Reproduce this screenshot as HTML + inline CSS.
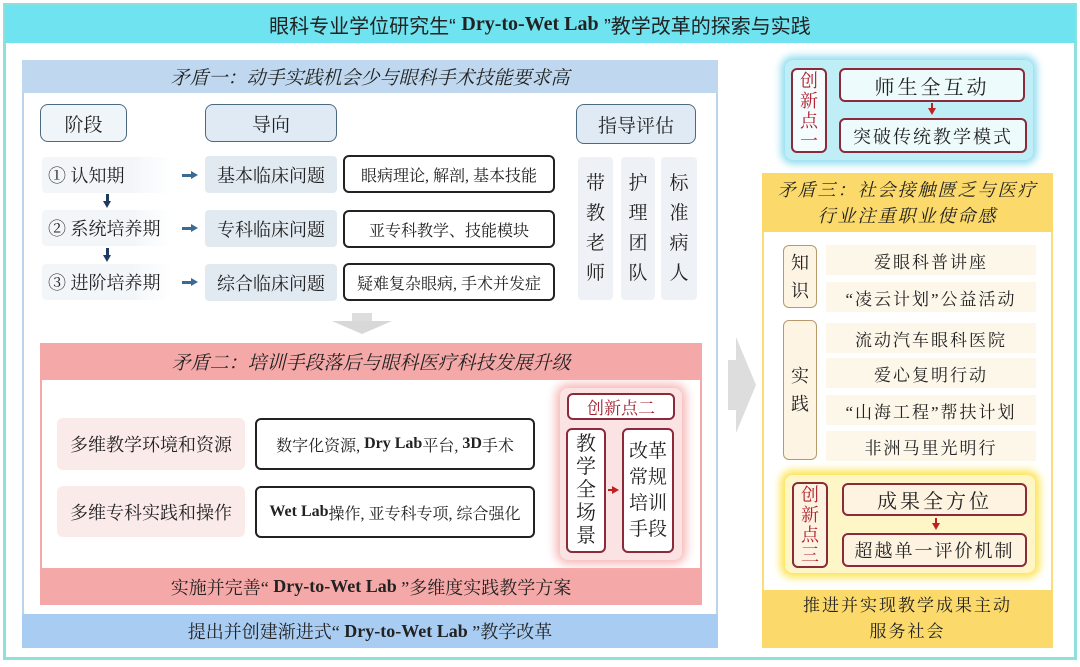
<!DOCTYPE html>
<html><head><meta charset="utf-8"><style>
*{margin:0;padding:0;box-sizing:border-box}
body{width:1080px;height:667px;background:#fff;position:relative;overflow:hidden;font-family:"Liberation Serif","Noto Serif CJK SC",serif;color:#222}
.a{position:absolute;display:flex;align-items:center;justify-content:center;text-align:center}
.hd{background:#dfeaf4;border:1.5px solid #4a6a80;border-radius:8px;font-size:19px}
.st{background:#f3f6f9;font-size:18px;border-radius:4px}
.gd{background:#e1e9f1;font-size:18px;border-radius:4px}
.wb{background:#fff;border:2px solid #222;border-radius:6px;font-size:16px}
.col{background:#eef2f6;border-radius:4px;font-size:19px;line-height:30px}
.pk{background:#fbeaea;border-radius:6px;font-size:18px;white-space:nowrap}
.rb{border:2px solid #8a2a3a;border-radius:6px;background:#fff}
.yr{background:#fdf7ea;font-size:17px;letter-spacing:2px}
.it{font-style:italic}
.ra{position:absolute;height:3px;background:#3a6a96}
.ra::after{content:"";position:absolute;right:-6px;top:-3px;border-top:4.5px solid transparent;border-bottom:4.5px solid transparent;border-left:7px solid #3a6a96}
.da{position:absolute;width:3px;background:#1e3a60}
.da::after{content:"";position:absolute;bottom:-6px;left:-3px;border-left:4.5px solid transparent;border-right:4.5px solid transparent;border-top:7px solid #1e3a60}
.rr{position:absolute;width:0;height:0;border-top:4px solid transparent;border-bottom:4px solid transparent;border-left:7px solid #c02020}
.rdn{position:absolute;width:0;height:0;border-left:4px solid transparent;border-right:4px solid transparent;border-top:7px solid #c02020}
</style></head><body>
<div class="a" style="left:3px;top:3px;width:1074px;height:657px;border:3px solid #8ee0dc;"></div>
<div class="a" style="left:5px;top:5px;width:1070px;height:38px;background:#6fe3ef;font-size:20px;font-family:'Liberation Sans','Noto Sans CJK SC',sans-serif">眼科专业学位研究生“&nbsp;<b style="font-family:'Liberation Serif',serif">Dry-to-Wet Lab</b>&nbsp;”教学改革的探索与实践</div>

<div class="a" style="left:22px;top:60px;width:696px;height:588px;background:#fff;border:2px solid #bcd4ea"></div>
<div class="a it" style="left:22px;top:60px;width:696px;height:33px;background:#bfd8ef;font-size:19px">矛盾一：动手实践机会少与眼科手术技能要求高</div>
<div class="a" style="left:22px;top:614px;width:696px;height:34px;background:#a9cdf2;font-size:18px">提出并创建渐进式“&nbsp;<b>Dry-to-Wet Lab</b>&nbsp;”教学改革</div>

<div class="a hd" style="left:40px;top:104px;width:87px;height:38px;background:#f0f5fa">阶段</div>
<div class="a hd" style="left:205px;top:104px;width:132px;height:38px">导向</div>
<div class="a hd" style="left:576px;top:104px;width:120px;height:40px">指导评估</div>

<div class="a st" style="left:42px;top:157px;width:130px;height:36px;justify-content:flex-start;padding-left:6px;background:linear-gradient(90deg,#f3f6f9 70%,#fff)">①&nbsp;认知期</div>
<div class="a st" style="left:42px;top:210px;width:130px;height:36px;justify-content:flex-start;padding-left:6px;white-space:nowrap;background:linear-gradient(90deg,#f3f6f9 70%,#fff)">②&nbsp;系统培养期</div>
<div class="a st" style="left:42px;top:264px;width:130px;height:36px;justify-content:flex-start;padding-left:6px;white-space:nowrap;background:linear-gradient(90deg,#f3f6f9 70%,#fff)">③&nbsp;进阶培养期</div>
<div class="da" style="left:106px;top:194px;height:8px"></div>
<div class="da" style="left:106px;top:248px;height:8px"></div>
<div class="ra" style="left:182px;top:174px;width:10px"></div>
<div class="ra" style="left:182px;top:227px;width:10px"></div>
<div class="ra" style="left:182px;top:281px;width:10px"></div>

<div class="a gd" style="left:205px;top:156px;width:132px;height:37px">基本临床问题</div>
<div class="a gd" style="left:205px;top:210px;width:132px;height:37px">专科临床问题</div>
<div class="a gd" style="left:205px;top:264px;width:132px;height:37px">综合临床问题</div>
<div class="a wb" style="left:343px;top:155px;width:212px;height:38px">眼病理论, 解剖, 基本技能</div>
<div class="a wb" style="left:343px;top:210px;width:212px;height:38px">亚专科教学、技能模块</div>
<div class="a wb" style="left:343px;top:263px;width:212px;height:38px">疑难复杂眼病, 手术并发症</div>

<div class="a col" style="left:578px;top:157px;width:35px;height:143px">带<br>教<br>老<br>师</div>
<div class="a col" style="left:621px;top:157px;width:34px;height:143px">护<br>理<br>团<br>队</div>
<div class="a col" style="left:661px;top:157px;width:36px;height:143px">标<br>准<br>病<br>人</div>

<div style="position:absolute;left:352px;top:313px;width:20px;height:8px;background:#ddd"></div>
<div style="position:absolute;left:332px;top:321px;width:0;height:0;border-left:30px solid transparent;border-right:30px solid transparent;border-top:13px solid #d8d8d8"></div>

<div class="a" style="left:40px;top:343px;width:662px;height:262px;background:#fff;border:2px solid #f4a9a9"></div>
<div class="a it" style="left:40px;top:343px;width:662px;height:37px;background:#f5a8a8;font-size:19px">矛盾二：培训手段落后与眼科医疗科技发展升级</div>
<div class="a" style="left:40px;top:568px;width:662px;height:37px;background:#f5a8a8;font-size:18px">实施并完善“&nbsp;<b>Dry-to-Wet Lab</b>&nbsp;”多维度实践教学方案</div>
<div class="a pk" style="left:57px;top:418px;width:188px;height:52px">多维教学环境和资源</div>
<div class="a pk" style="left:57px;top:486px;width:188px;height:51px">多维专科实践和操作</div>
<div class="a wb" style="left:255px;top:418px;width:280px;height:52px">数字化资源,&nbsp;<b>Dry Lab</b>平台,&nbsp;<b>3D</b>手术</div>
<div class="a wb" style="left:255px;top:486px;width:280px;height:52px"><b>Wet Lab</b>操作, 亚专科专项, 综合强化</div>
<div class="a" style="left:560px;top:388px;width:122px;height:172px;background:#fbe3e3;box-shadow:0 0 10px 4px #f7b5b5;border-radius:8px"></div>
<div class="a rb" style="left:567px;top:393px;width:108px;height:27px;color:#a02030;font-size:17px">创新点二</div>
<div class="a rb" style="left:566px;top:428px;width:40px;height:125px;font-size:20px;line-height:23px">教<br>学<br>全<br>场<br>景</div>
<div class="a rb" style="left:622px;top:428px;width:52px;height:125px;font-size:19px;line-height:26px">改革<br>常规<br>培训<br>手段</div>
<div style="position:absolute;left:608px;top:489px;width:5px;height:2px;background:#c02020"></div>
<div class="rr" style="left:612px;top:486px"></div>

<div style="position:absolute;left:728px;top:360px;width:10px;height:50px;background:#ddd"></div>
<div style="position:absolute;left:736px;top:337px;width:0;height:0;border-top:48px solid transparent;border-bottom:48px solid transparent;border-left:20px solid #ddd"></div>

<div class="a" style="left:785px;top:60px;width:248px;height:100px;background:#bfeef6;box-shadow:0 0 8px 4px #8fdcef;border-radius:8px"></div>
<div class="a rb" style="left:791px;top:68px;width:36px;height:85px;color:#b02030;font-size:18px;line-height:20px;background:#f4fcfd">创<br>新<br>点<br>一</div>
<div class="a rb" style="left:839px;top:68px;width:186px;height:34px;font-size:20px;letter-spacing:3px;background:#eefbfd">师生全互动</div>
<div class="a rb" style="left:839px;top:118px;width:188px;height:35px;font-size:18px;letter-spacing:2px;background:#eefbfd">突破传统教学模式</div>
<div style="position:absolute;left:931px;top:103px;width:2px;height:6px;background:#c02020"></div>
<div class="rdn" style="left:928px;top:108px"></div>

<div class="a" style="left:762px;top:173px;width:291px;height:475px;background:#fff;border:2px solid #fbdc7a"></div>
<div class="a it" style="left:762px;top:173px;width:291px;height:59px;background:#fbd96a;font-size:18px;line-height:26px;letter-spacing:2px">矛盾三：社会接触匮乏与医疗<br>行业注重职业使命感</div>
<div class="a" style="left:762px;top:590px;width:291px;height:58px;background:#fbd96a;font-size:17px;line-height:26px;letter-spacing:2px">推进并实现教学成果主动<br>服务社会</div>
<div class="a" style="left:783px;top:245px;width:34px;height:63px;border:1.5px solid #b89a6a;border-radius:6px;background:#fdf4e4;font-size:18px;line-height:28px">知<br>识</div>
<div class="a" style="left:783px;top:320px;width:34px;height:140px;border:1.5px solid #b89a6a;border-radius:6px;background:#fdf4e4;font-size:18px;line-height:28px">实<br>践</div>
<div class="a yr" style="left:826px;top:245px;width:210px;height:30px">爱眼科普讲座</div>
<div class="a yr" style="left:826px;top:282px;width:210px;height:30px">“凌云计划”公益活动</div>
<div class="a yr" style="left:826px;top:323px;width:210px;height:30px">流动汽车眼科医院</div>
<div class="a yr" style="left:826px;top:358px;width:210px;height:30px">爱心复明行动</div>
<div class="a yr" style="left:826px;top:395px;width:210px;height:30px">“山海工程”帮扶计划</div>
<div class="a yr" style="left:826px;top:431px;width:210px;height:30px">非洲马里光明行</div>

<div class="a" style="left:785px;top:475px;width:250px;height:98px;background:#fff6c8;box-shadow:0 0 8px 5px #fde55a;border-radius:8px"></div>
<div class="a rb" style="left:792px;top:482px;width:36px;height:86px;color:#b02030;font-size:18px;line-height:20px;background:#fdf3e0">创<br>新<br>点<br>三</div>
<div class="a rb" style="left:842px;top:483px;width:185px;height:33px;font-size:20px;letter-spacing:3px;background:#fdf3e0">成果全方位</div>
<div class="a rb" style="left:842px;top:533px;width:185px;height:34px;font-size:18px;letter-spacing:2px;background:#fdf3e0">超越单一评价机制</div>
<div style="position:absolute;left:935px;top:518px;width:2px;height:6px;background:#c02020"></div>
<div class="rdn" style="left:932px;top:523px"></div>
</body></html>
